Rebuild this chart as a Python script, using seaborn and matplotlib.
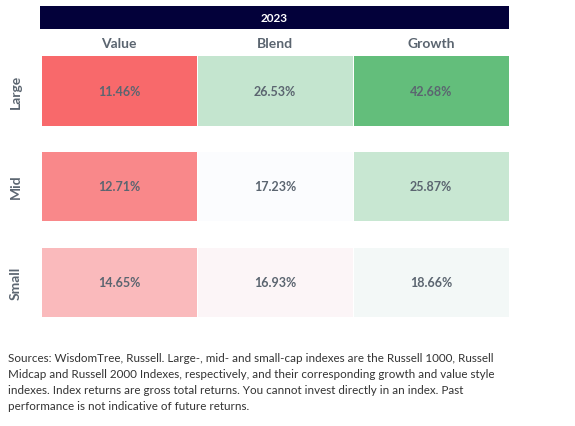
import numpy as np
import pandas as pd
import seaborn as sns
import matplotlib.pyplot as plt
from matplotlib.colors import LinearSegmentedColormap, TwoSlopeNorm
from matplotlib.patches import Rectangle

year = "2023"
styles = ["Value", "Blend", "Growth"]
sizes = ["Large", "Mid", "Small"]
large = [11.46, 26.53, 42.68]
mid = [12.71, 17.23, 25.87]
small = [14.65, 16.93, 18.66]
note = ("Sources: WisdomTree, Russell. Large-, mid- and small-cap indexes are the Russell 1000, Russell\n"
        "Midcap and Russell 2000 Indexes, respectively, and their corresponding growth and value style\n"
        "indexes. Index returns are gross total returns. You cannot invest directly in an index. Past\n"
        "performance is not indicative of future returns.")

df = pd.DataFrame([large, mid, small], index=sizes, columns=styles)

sns.set_theme(style="white")
plt.rcParams["font.family"] = ["Lato", "DejaVu Sans"]

# excel-like 3 colour scale: min / median / max
cmap = LinearSegmentedColormap.from_list("rwg", ["#F8696B", "#FCFCFF", "#63BE7B"])
allv = df.values.ravel()
norm = TwoSlopeNorm(vmin=allv.min(), vcenter=np.median(allv), vmax=allv.max())

W, H = 575, 427
fig = plt.figure(figsize=(W / 100, H / 100), dpi=100)
grey = "#5B6570"

left, right = 41, 509
rows_px = [(56, 127), (152, 222), (248, 318)]
for i, (size, (top, bot)) in enumerate(zip(sizes, rows_px)):
    ax = fig.add_axes([left / W, 1 - bot / H, (right - left) / W, (bot - top) / H])
    sns.heatmap(df.loc[[size]], ax=ax, cmap=cmap, norm=norm, cbar=False,
                annot=True, fmt=".2f", linewidths=0.6, linecolor="white",
                annot_kws={"color": grey, "fontsize": 9, "fontweight": "bold"})
    for t in ax.texts:
        t.set_text(t.get_text() + "%")
    ax.set_xlabel("")
    ax.set_ylabel("")
    ax.set_yticklabels([size], rotation=90, va="center", fontsize=10,
                       fontweight="bold", color=grey)
    ax.tick_params(axis="y", length=0, pad=14)
    if i == 0:
        ax.xaxis.tick_top()
        ax.set_xticklabels(styles, fontsize=10, fontweight="bold", color=grey)
        ax.tick_params(axis="x", length=0, pad=4)
    else:
        ax.set_xticks([])

# header bar
fig.patches.append(Rectangle((40 / W, 1 - 30 / H), (right - 40) / W, 23 / H,
                             transform=fig.transFigure, facecolor="#03013A",
                             edgecolor="none", zorder=0))
fig.text((40 + right) / 2 / W, 1 - 18.5 / H, year, ha="center", va="center",
         color="white", fontsize=8.5, fontweight="bold")

fig.text(8 / W, 1 - 353 / H, note, ha="left", va="top", fontsize=8.4,
         color="#333333", linespacing=1.55)

fig.savefig("out.png", dpi=100, facecolor="white")
